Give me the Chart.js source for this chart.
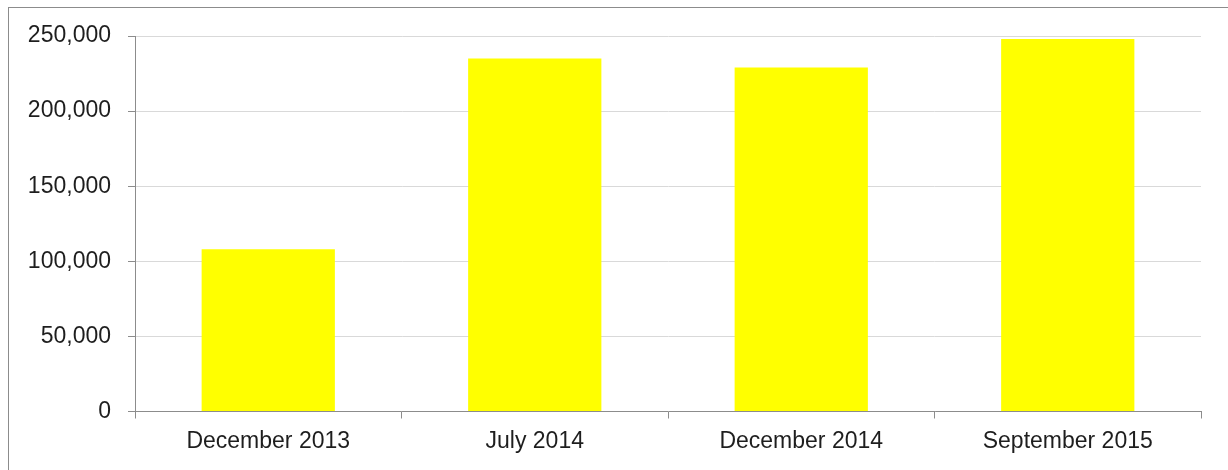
<!doctype html>
<html lang="en">
<head>
<meta charset="utf-8">
<title>Chart</title>
<script src="https://cdn.jsdelivr.net/npm/chart.js@4/dist/chart.umd.min.js"></script>
<style>
  html, body { margin: 0; padding: 0; background: #fff; }
  #wrap { position: relative; width: 1228px; height: 470px; overflow: hidden; }
  #frame { position: absolute; left: 8px; top: 7px; width: 1240px; height: 480px;
           border-left: 1px solid #8c8c8c; border-top: 1px solid #8c8c8c; }
  #chart { position: absolute; left: 0; top: 0; }
</style>
</head>
<body>
<div id="wrap">
  <div id="frame"></div>
  <canvas id="chart" width="1228" height="470"></canvas>
</div>
<script>
var categories = ['December 2013', 'July 2014', 'December 2014', 'September 2015'];
var values = [108000, 235000, 229000, 248000];
var yTicks = [0, 50000, 100000, 150000, 200000, 250000];

var axisGray = '#8c8c8c';
var gridGray = '#d9d9d9';
var fontSpec = { family: '"Liberation Sans", Arial, sans-serif', size: 23 };

new Chart(document.getElementById('chart'), {
    type: 'bar',
    data: {
        labels: categories,
        datasets: [{
            data: values,
            backgroundColor: '#ffff00',
            borderWidth: 0,
            categoryPercentage: 0.5,
            barPercentage: 1
        }]
    },
    options: {
        responsive: false,
        animation: false,
        layout: { padding: { left: 0, top: 36, right: 27, bottom: 0 } },
        plugins: { legend: { display: false }, tooltip: { enabled: false } },
        scales: {
            x: {
                grid: { offset: true, drawOnChartArea: false, drawTicks: true, tickLength: 7, tickColor: axisGray, color: axisGray },
                border: { color: axisGray, width: 1 },
                ticks: { color: '#1e1e1e', font: fontSpec, padding: 9, maxRotation: 0 },
                afterFit: function (scale) { scale.height = 58.5; }
            },
            y: {
                min: 0,
                max: 250000,
                afterBuildTicks: function (scale) {
                    scale.ticks = yTicks.map(function (v) { return { value: v }; });
                },
                grid: { color: gridGray, lineWidth: 1, drawTicks: true, tickLength: 7, tickColor: axisGray },
                border: { color: axisGray, width: 1 },
                ticks: {
                    color: '#1e1e1e',
                    font: fontSpec,
                    padding: 17,
                    callback: function (v) { return v.toLocaleString('en-US'); }
                },
                afterFit: function (scale) { scale.width = 135; }
            }
        }
    }
});
</script>
</body>
</html>
